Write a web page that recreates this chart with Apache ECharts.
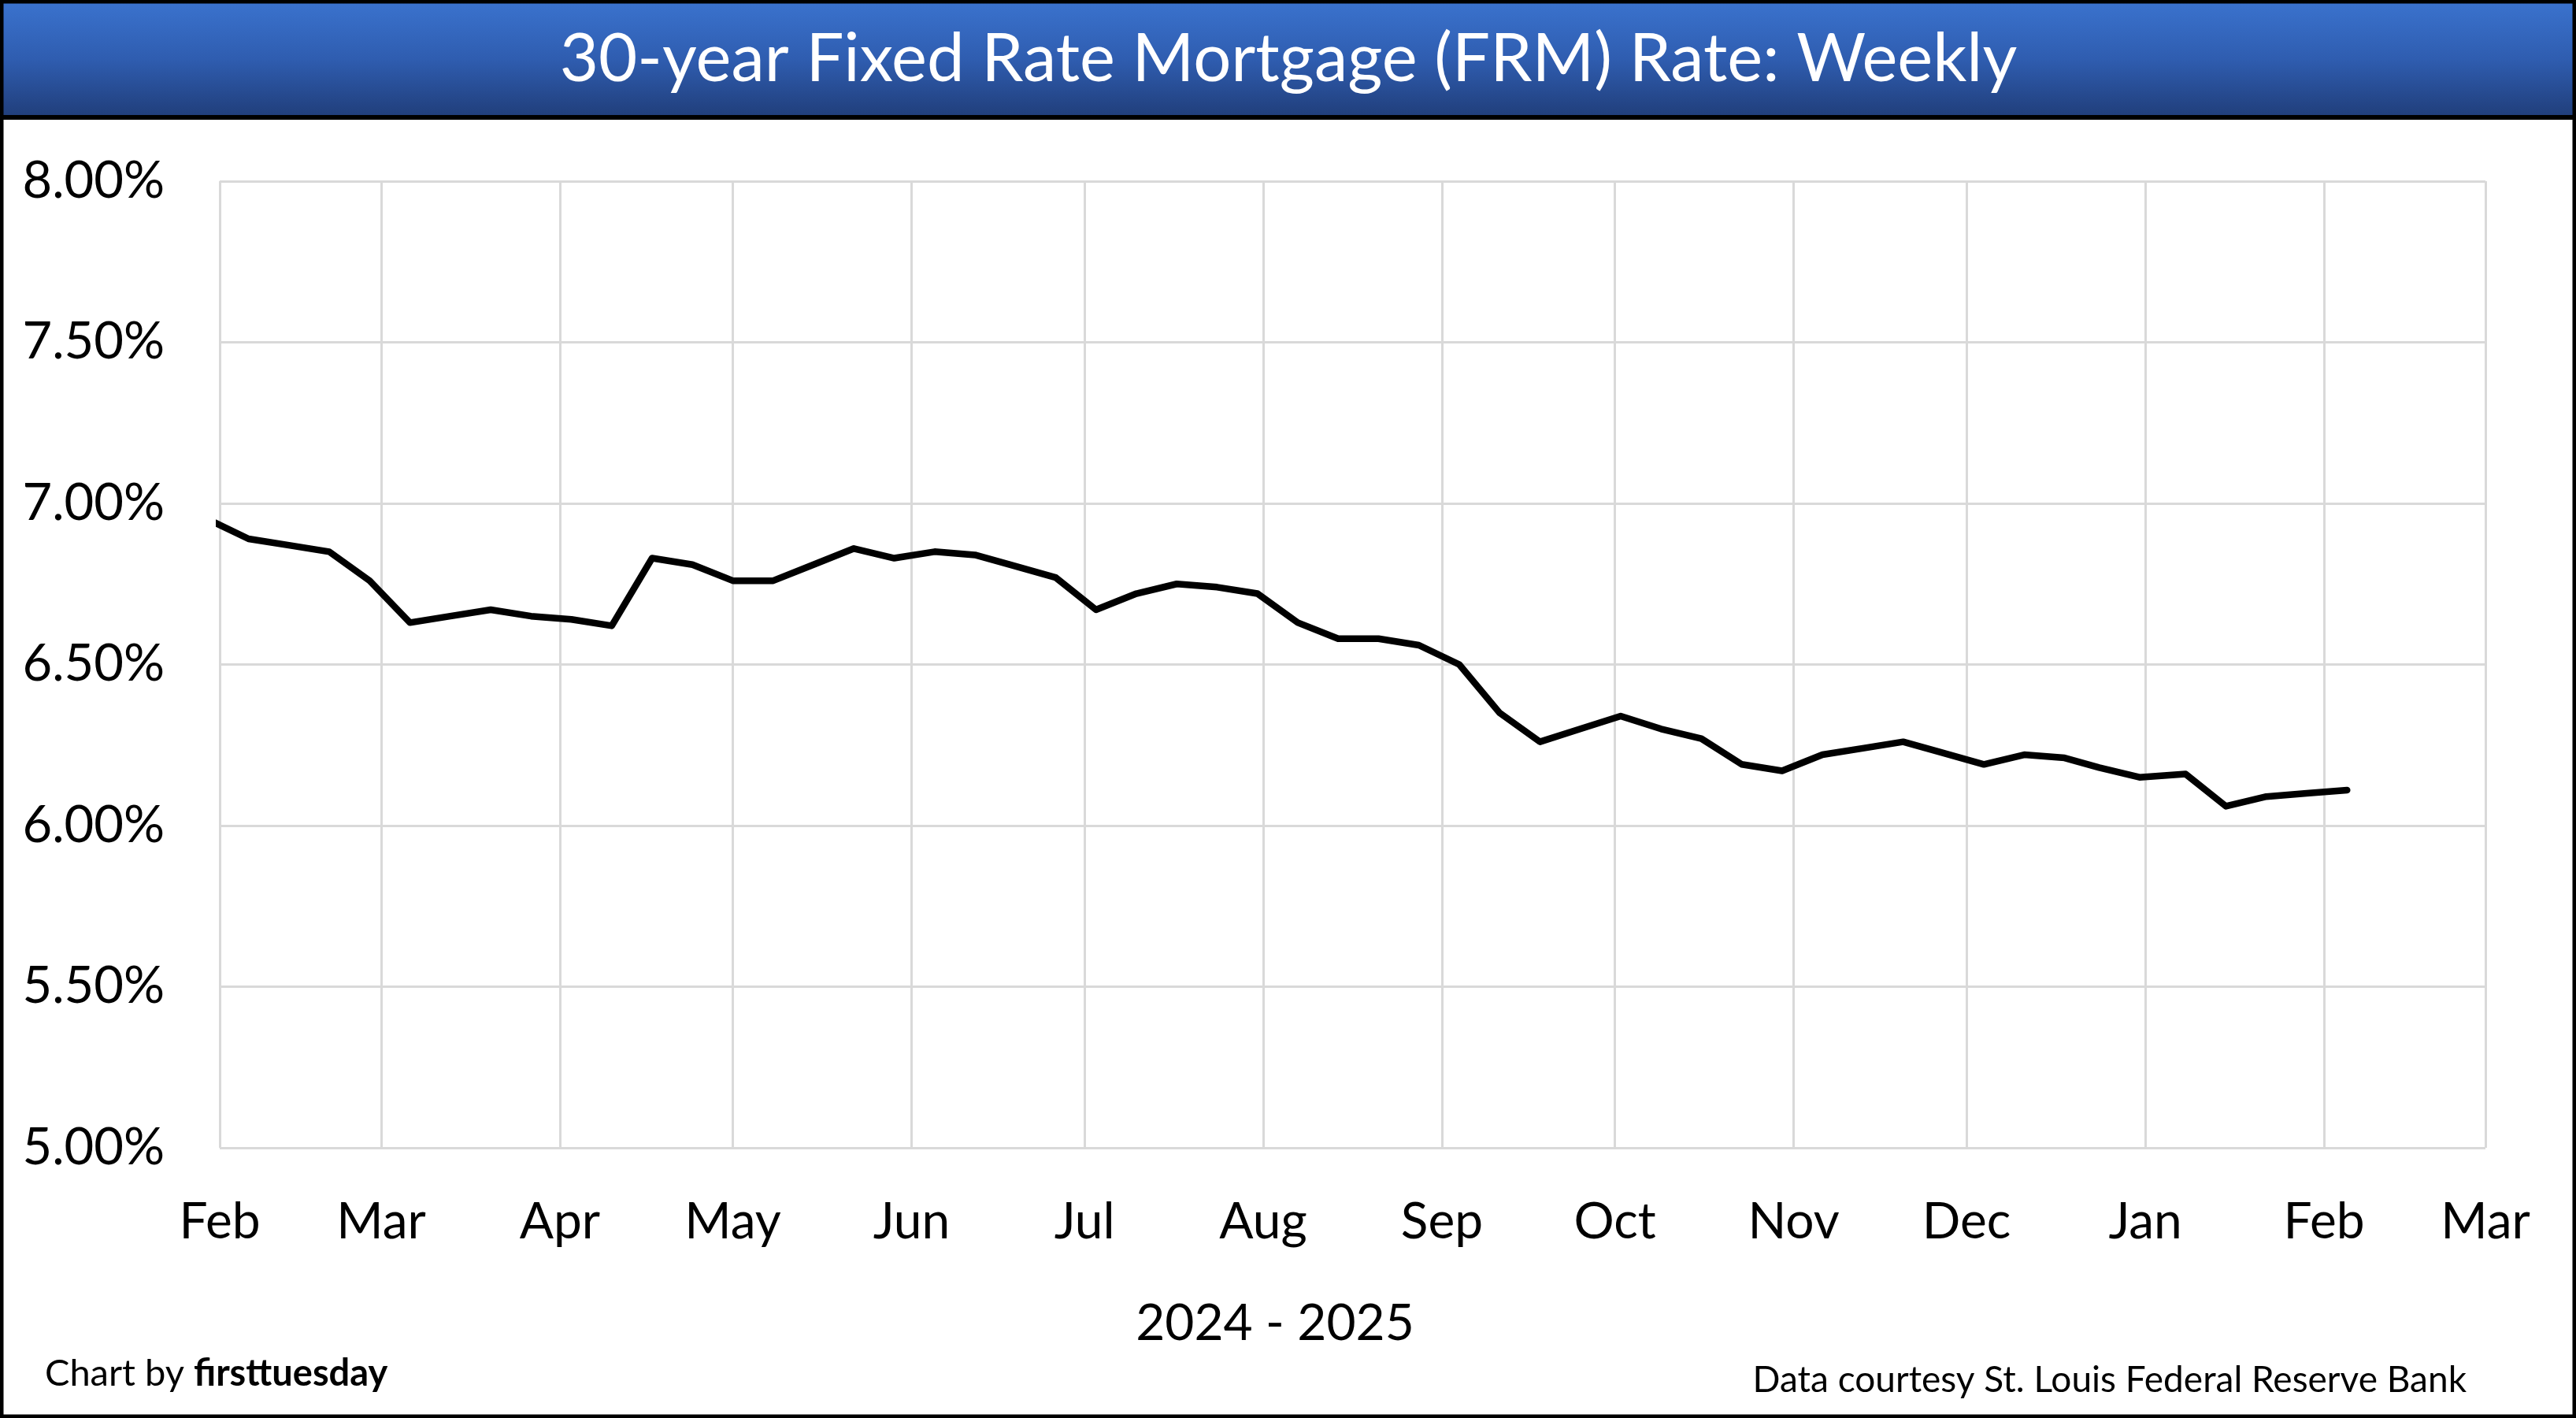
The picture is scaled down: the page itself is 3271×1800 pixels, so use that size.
<!DOCTYPE html>
<html>
<head>
<meta charset="utf-8">
<script src="https://cdn.jsdelivr.net/npm/echarts@6/dist/echarts.min.js"></script>
<style>
html,body{margin:0;padding:0;background:#fff;}
#c{width:3271px;height:1800px;}
</style>
</head>
<body>
<div id="c"></div>
<script>
// Weekly 30-year FRM rate (%)
const weekDates = [
  '2025-01-30','2025-02-06','2025-02-13','2025-02-20','2025-02-27',
  '2025-03-06','2025-03-13','2025-03-20','2025-03-27',
  '2025-04-03','2025-04-10','2025-04-17','2025-04-24',
  '2025-05-01','2025-05-08','2025-05-15','2025-05-22','2025-05-29',
  '2025-06-05','2025-06-12','2025-06-18','2025-06-26',
  '2025-07-03','2025-07-10','2025-07-17','2025-07-24','2025-07-31',
  '2025-08-07','2025-08-14','2025-08-21','2025-08-28',
  '2025-09-04','2025-09-11','2025-09-18','2025-09-25',
  '2025-10-02','2025-10-09','2025-10-16','2025-10-23','2025-10-30',
  '2025-11-06','2025-11-13','2025-11-20','2025-11-26',
  '2025-12-04','2025-12-11','2025-12-18','2025-12-24','2025-12-31',
  '2026-01-08','2026-01-15','2026-01-22','2026-01-29','2026-02-05'
];
const rates = [
  6.95, 6.89, 6.87, 6.85, 6.76,
  6.63, 6.65, 6.67, 6.65,
  6.64, 6.62, 6.83, 6.81,
  6.76, 6.76, 6.81, 6.86, 6.83,
  6.85, 6.84, 6.81, 6.77,
  6.67, 6.72, 6.75, 6.74, 6.72,
  6.63, 6.58, 6.58, 6.56,
  6.50, 6.35, 6.26, 6.30,
  6.34, 6.30, 6.27, 6.19, 6.17,
  6.22, 6.24, 6.26, 6.23,
  6.19, 6.22, 6.21, 6.18, 6.15,
  6.16, 6.06, 6.09, 6.10, 6.11
];
const xMin = '2025-02-01';
const xMax = '2026-03-01';
const yMin = 5, yMax = 8, yStep = 0.5;
const titleText = '30-year Fixed Rate Mortgage (FRM) Rate: Weekly';
const xAxisTitle = '2024 - 2025';
const creditLeft = 'Chart by ';
const creditBold = 'firsttuesday';
const creditRight = 'Data courtesy St. Louis Federal Reserve Bank';

const FONT = 'Lato';
const W = 3271, H = 1800;

const chart = echarts.init(document.getElementById('c'), null, {renderer: 'canvas', width: W, height: H});
const seriesData = weekDates.map((d, i) => [d, rates[i]]);

chart.setOption({
  animation: false,
  backgroundColor: '#ffffff',
  textStyle: {fontFamily: FONT},
  grid: {left: 279, right: W - 3156, top: 230, bottom: H - 1457, containLabel: false},
  xAxis: {
    type: 'time',
    min: xMin, max: xMax,
    splitNumber: 13,
    minInterval: 28 * 86400000,
    maxInterval: 31 * 86400000,
    axisLine: {show: false},
    axisTick: {show: false},
    splitLine: {show: true, lineStyle: {color: '#d9d9d9', width: 3}},
    axisLabel: {
      formatter: '{MMM}',
      fontFamily: FONT, fontSize: 64, color: '#000',
      margin: 62, showMinLabel: true, showMaxLabel: true, hideOverlap: false
    }
  },
  yAxis: {
    type: 'value',
    min: yMin, max: yMax, interval: yStep,
    axisLine: {show: false},
    axisTick: {show: false},
    splitLine: {show: true, lineStyle: {color: '#d9d9d9', width: 3}},
    axisLabel: {
      formatter: v => v.toFixed(2) + '%',
      fontFamily: FONT, fontSize: 65, color: '#000', margin: 70
    }
  },
  series: [{
    type: 'line',
    data: seriesData,
    showSymbol: false,
    clip: true,
    lineStyle: {color: '#000', width: 8.5, cap: 'round', join: 'round'},
    z: 5
  }],
  graphic: [
    {type: 'rect', shape: {x: 0, y: 0, width: W, height: 152}, style: {fill: '#000'}, z: 0},
    {type: 'rect', shape: {x: 4, y: 4, width: W - 8, height: 142},
      style: {fill: new echarts.graphic.LinearGradient(0, 0, 0, 1, [
        {offset: 0, color: '#3a72cd'}, {offset: 0.5, color: '#2f5db0'}, {offset: 1, color: '#213f7c'}])}, z: 1},
    {type: 'text', x: 1636, y: 76, z: 2,
      style: {text: titleText, fill: '#fff', font: '85px Lato', align: 'center', verticalAlign: 'middle'}},
    {type: 'rect', shape: {x: 2, y: 2, width: W - 4, height: H - 4}, style: {fill: 'none', stroke: '#000', lineWidth: 5}, z: 3},
    {type: 'text', x: 1619, y: 1680, z: 2,
      style: {text: xAxisTitle, fill: '#000', font: '64px Lato', align: 'center', verticalAlign: 'middle'}},
    {type: 'text', x: 57, y: 1744, z: 2,
      style: {text: '{n|' + creditLeft + '}{b|' + creditBold + '}', fill: '#000', align: 'left', verticalAlign: 'middle',
        rich: {n: {fontFamily: FONT, fontSize: 47, fill: '#000'}, b: {fontFamily: FONT, fontSize: 47, fontWeight: 'bold', fill: '#000'}}}},
    {type: 'text', x: 3132, y: 1752, z: 2,
      style: {text: creditRight, fill: '#000', font: '46px Lato', align: 'right', verticalAlign: 'middle'}}
  ]
});
</script>
</body>
</html>
